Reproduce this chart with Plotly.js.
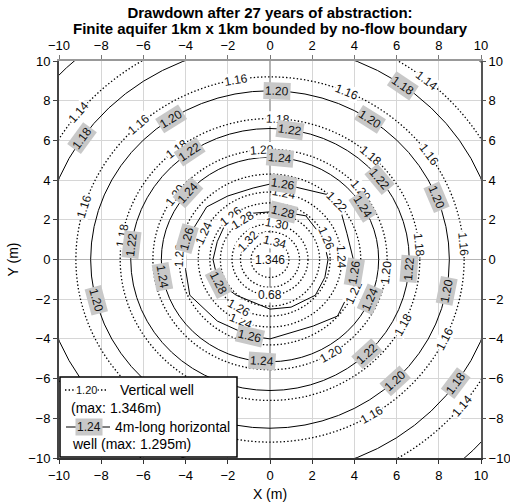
<!DOCTYPE html>
<html><head><meta charset="utf-8">
<script src="https://cdn.plot.ly/plotly-3.0.1.min.js"></script>
<style>body{margin:0;background:#fff}</style>
</head><body><div id="chart" style="width:510px;height:504px"></div>
<script>
// ---------------- data ----------------
const titleLines = ['Drawdown after 27 years of abstraction:', 'Finite aquifer 1km x 1km bounded by no-flow boundary'];
const vertMax = 1.346;           // vertical well max drawdown (m)
const horizMax = 1.295;          // horizontal well max drawdown (m)

// vertical well contours (dotted): level and radius (m)
const vertLevels = [1.14, 1.16, 1.18, 1.20, 1.22, 1.24, 1.26, 1.28, 1.30, 1.32, 1.34];
const vertRadius = [11.7, 9.2, 7.1, 5.55, 4.3, 3.4, 2.85, 2.35, 1.8, 1.4, 0.9];

// horizontal well contours (solid), near-circular ones
const horizLevels = [1.18, 1.20, 1.22, 1.24];
const horizRadius = [10.8, 8.5, 6.6, 5.15];
// outermost solid contour 1.16 (only corners visible): polar samples
const h116Theta = [0, 45, 90, 135, 180, 225, 270, 315, 360];
const h116Radius = [13.6, 14.1, 13.6, 13.65, 14.0, 14.4, 13.6, 13.6, 13.6];
// inner polygonal solid contours
const h126X = [0, 0.6, 2.8, 3.3, 3.65, 3.95, 4.0, 3.6, 3.2, 2.05, 0, -0.95, -2.5, -3.8, -4.0, -3.95, -3.0, -2.0, -0.8, 0];
const h126Y = [3.8, 3.8, 3.25, 2.65, 1.3, 0, -0.7, -2.0, -2.85, -3.35, -4.0, -3.85, -3.1, -1.8, -0.5, 1.0, 2.65, 3.2, 3.6, 3.8];
const h128X = [0, 0.7, 1.7, 2.5, 2.75, 2.6, 2.15, 1.0, 0, -1.6, -2.45, -2.7, -2.5, -2.2, -1.2, 0];
const h128Y = [2.4, 2.38, 2.2, 1.1, 0, -0.9, -1.8, -2.4, -2.5, -1.8, -1.15, 0, 0.9, 1.6, 2.3, 2.4];

// contour labels: level and polar angle (deg) of label position
const vLabLevel = [1.14,1.14,1.14, 1.16,1.16,1.16,1.16,1.16,1.16,1.16,1.16,
  1.18,1.18,1.18,1.18,1.18,1.18, 1.20,1.20,1.20,1.20,1.20, 1.22,1.22,1.22,
  1.24,1.24,1.24,1.24, 1.26,1.26,1.26, 1.28, 1.30, 1.32, 1.34];
const vLabTheta = [140.7,50.4,-39, 163,132.3,100,66.6,34.9,4.6,-25.8,-58.4,
  170,128.4,87,47.5,5.9,-27.5, 144,94,38.7,-6.6,-58.8, 177,42.6,-23,
  157,79,2.4,246, 130,21.8,239, 123, 79, 138, 75];
const oddLabText = ['0.68'];
const oddLabLevel = [1.30];
const oddLabTheta = [-90];

const hLabLevel = [1.18,1.18,1.18, 1.20,1.20,1.20,1.20,1.20,1.20,1.20,
  1.22,1.22,1.22,1.22,1.22,1.22, 1.24,1.24,1.24,1.24,1.24,1.24,
  1.26,1.26,1.26,1.26, 1.28,1.28];
const hLabTheta = [145.5,54.2,-35.3, 123.5,87.7,56.3,21.8,-10.6,-45.9,194,
  125.2,81.8,38.1,-4.1,-46.1,173.7, 139.3,84.8,31,-22.8,189.6,266,
  164.8,80.7,-8.9,256, 75.5,205.6];

// ---------------- helpers ----------------
const D = Math.PI / 180;
const SX = 422 / 20, SY = 397 / 20;   // px per unit on x and y (for label rotation)
function tangentAngle(th) {
  const t = th * D;
  let a = Math.atan2(-Math.cos(t) * SY, -Math.sin(t) * SX) / D;
  while (a > 90) a -= 180;
  while (a <= -90) a += 180;
  return a;
}
function rayPoly(xs, ys, th) {
  const dx = Math.cos(th * D), dy = Math.sin(th * D);
  for (let i = 0; i < xs.length - 1; i++) {
    const px = xs[i], py = ys[i], ex = xs[i + 1] - px, ey = ys[i + 1] - py;
    const det = -dx * ey + ex * dy;
    if (Math.abs(det) < 1e-12) continue;
    const s = (-px * ey + ex * py) / det;
    const u = (dx * py - dy * px) / det;
    if (s > 0 && u >= -1e-9 && u <= 1 + 1e-9) return s;
  }
  return 0;
}
function horizR(level, th) {
  const k = horizLevels.indexOf(level);
  if (k >= 0) return horizRadius[k];
  if (level === 1.26) return rayPoly(h126X, h126Y, th);
  if (level === 1.28) return rayPoly(h128X, h128Y, th);
  return 0;
}

const DOT = '1.4px,2.2px';

// ---------------- traces ----------------
const traces = [];
traces.push({ x: h116Theta.map((t, i) => h116Radius[i] * Math.cos(t * D)),
  y: h116Theta.map((t, i) => h116Radius[i] * Math.sin(t * D)),
  mode: 'lines', line: { color: '#000', width: 1, shape: 'spline', smoothing: 1 },
  hoverinfo: 'skip', showlegend: false });
traces.push({ x: h126X, y: h126Y, mode: 'lines', line: { color: '#000', width: 1 }, hoverinfo: 'skip', showlegend: false });
traces.push({ x: h128X, y: h128Y, mode: 'lines', line: { color: '#000', width: 1 }, hoverinfo: 'skip', showlegend: false });
traces.push({ x: [], y: [], xaxis: 'x2', yaxis: 'y2', showlegend: false });

// ---------------- shapes ----------------
const shapes = [];
vertLevels.forEach((lv, i) => {
  const r = vertRadius[i];
  shapes.push({ type: 'circle', xref: 'x', yref: 'y', x0: -r, x1: r, y0: -r, y1: r,
    line: { color: '#000', width: 1.3, dash: DOT }, layer: 'above' });
});
horizLevels.forEach((lv, i) => {
  const r = horizRadius[i];
  shapes.push({ type: 'circle', xref: 'x', yref: 'y', x0: -r, x1: r, y0: -r, y1: r,
    line: { color: '#000', width: 1 }, layer: 'above' });
});

// legend box (paper coords from pixel layout)
const L = 59, T = 61, W = 422, H = 397;
const px = v => (v - L) / W, py = v => (T + H - v) / H;
shapes.push({ type: 'rect', xref: 'paper', yref: 'paper', x0: px(60), x1: px(237), y0: py(457), y1: py(377),
  line: { color: '#000', width: 1.5 }, fillcolor: '#fff', layer: 'above' });
shapes.push({ type: 'line', xref: 'paper', yref: 'paper', x0: px(65), x1: px(108), y0: py(390), y1: py(390),
  line: { color: '#000', width: 1.3, dash: DOT }, layer: 'above' });
shapes.push({ type: 'line', xref: 'paper', yref: 'paper', x0: px(66), x1: px(110), y0: py(427), y1: py(427),
  line: { color: '#000', width: 1 }, layer: 'above' });

// ---------------- annotations ----------------
const ann = [];
const labFont = { family: 'Arial, Liberation Sans, sans-serif', size: 12, color: '#111' };
vLabLevel.forEach((lv, i) => {
  const th = vLabTheta[i], r = vertRadius[vertLevels.indexOf(lv)];
  ann.push({ x: r * Math.cos(th * D), y: r * Math.sin(th * D), xref: 'x', yref: 'y',
    xanchor: 'center', yanchor: 'middle',
    text: lv.toFixed(2), showarrow: false, textangle: tangentAngle(th), font: labFont,
    bgcolor: '#fff', borderpad: 0 });
});
oddLabText.forEach((tx, i) => {
  const th = oddLabTheta[i], r = vertRadius[vertLevels.indexOf(oddLabLevel[i])];
  ann.push({ x: r * Math.cos(th * D), y: r * Math.sin(th * D), xref: 'x', yref: 'y',
    xanchor: 'center', yanchor: 'middle',
    text: tx, showarrow: false, textangle: 0, font: labFont, bgcolor: '#fff', borderpad: 0 });
});
ann.push({ x: 0, y: 0, xref: 'x', yref: 'y', xanchor: 'center', yanchor: 'middle',
  text: vertMax.toFixed(3), showarrow: false, font: labFont, bgcolor: '#fff', borderpad: 0 });
hLabLevel.forEach((lv, i) => {
  const th = hLabTheta[i], r = horizR(lv, th);
  ann.push({ x: r * Math.cos(th * D), y: r * Math.sin(th * D), xref: 'x', yref: 'y',
    xanchor: 'center', yanchor: 'middle',
    text: lv.toFixed(2), showarrow: false, textangle: tangentAngle(th), font: labFont,
    bgcolor: '#c8c8c8', borderpad: 1 });
});
// legend texts
const legFont = { family: 'Arial, Liberation Sans, sans-serif', size: 14, color: '#000' };
function legText(x, y, text, extra) {
  ann.push(Object.assign({ xref: 'paper', yref: 'paper', x: px(x), y: py(y), xanchor: 'left', yanchor: 'middle',
    text: text, showarrow: false, font: legFont }, extra || {}));
}
legText(86, 390, vertLevels[3].toFixed(2), { xanchor: 'center', font: { family: 'Arial', size: 11, color: '#111' }, bgcolor: '#fff', borderpad: 0 });
legText(118, 390, 'Vertical well');
legText(69, 408, '(max: ' + vertMax + 'm)');
legText(89, 427, horizLevels[3].toFixed(2), { xanchor: 'center', font: { family: 'Arial', size: 12, color: '#111' }, bgcolor: '#c8c8c8', borderpad: 1 });
legText(113, 427, '4m-long horizontal');
legText(70, 444, 'well (max: ' + horizMax + 'm)');

// second title line (keeps the reference's tight line spacing)
const titleFont = { family: 'Arial, Liberation Sans, sans-serif', size: 15, color: '#000' };
ann.push({ xref: 'paper', yref: 'paper', x: 0.5, y: py(29), xanchor: 'center', yanchor: 'middle',
  text: '<b>' + titleLines[1] + '</b>', showarrow: false, font: titleFont });

// ---------------- layout ----------------
const tickFont = { family: 'Arial, Liberation Sans, sans-serif', size: 13, color: '#000' };
const axBase = { range: [-10, 10], tick0: 0, dtick: 2, ticks: 'outside', ticklen: 4, tickwidth: 1,
  showline: true, linewidth: 2, tickfont: tickFont, fixedrange: true };
const layout = {
  width: 510, height: 504,
  margin: { l: L, r: 510 - L - W, t: T, b: 504 - T - H },
  paper_bgcolor: '#fff', plot_bgcolor: '#fff',
  title: { text: '<b>' + titleLines[0] + '</b>', font: titleFont,
    x: 0.5, xref: 'paper', xanchor: 'center', y: 1 - 13 / 504, yref: 'container', yanchor: 'middle' },
  xaxis: Object.assign({}, axBase, { showgrid: true, gridcolor: '#d6d6d6', gridwidth: 1,
    zeroline: true, zerolinecolor: '#b4b4b4', zerolinewidth: 1.5, linecolor: '#333', tickcolor: '#333',
    title: { text: 'X (m)', font: { family: 'Arial, Liberation Sans, sans-serif', size: 14, color: '#000' }, standoff: 8 } }),
  yaxis: Object.assign({}, axBase, { showgrid: true, gridcolor: '#d6d6d6', gridwidth: 1,
    zeroline: true, zerolinecolor: '#b4b4b4', zerolinewidth: 1.5, linecolor: '#444', tickcolor: '#444',
    title: { text: 'Y (m)', font: { family: 'Arial, Liberation Sans, sans-serif', size: 14, color: '#000' }, standoff: 6 } }),
  xaxis2: Object.assign({}, axBase, { overlaying: 'x', side: 'top', showgrid: false, zeroline: false,
    linecolor: '#999', tickcolor: '#777' }),
  yaxis2: Object.assign({}, axBase, { overlaying: 'y', side: 'right', showgrid: false, zeroline: false,
    linecolor: '#555', tickcolor: '#555', ticklen: 3 }),
  shapes: shapes, annotations: ann, showlegend: false
};
Plotly.newPlot('chart', traces, layout, { staticPlot: true, displayModeBar: false });
</script></body></html>
